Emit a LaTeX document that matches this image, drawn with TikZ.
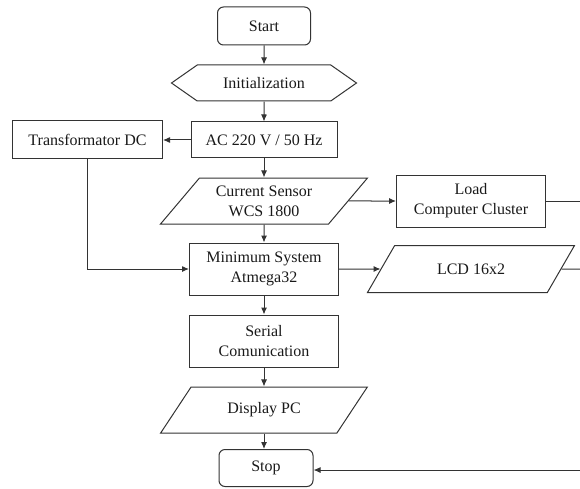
\documentclass[tikz,border=0pt]{standalone}
\usepackage{fontspec}
\setmainfont{Liberation Serif}
\usetikzlibrary{shapes.geometric,shapes.symbols,arrows.meta}

\tikzset{
  base/.style={draw=black!80, line width=1pt, align=center, inner sep=2pt,
    text=black!90, font=\fontsize{16}{20}\selectfont},
  term/.style={base, rectangle, rounded corners=6pt},
  prep/.style={base, signal, signal to=west and east, signal pointer angle=70},
  proc/.style={base, rectangle},
  io/.style={base, trapezium, trapezium left angle=49, trapezium right angle=131,
    trapezium stretches=true},
  arr/.style={draw=black!80, line width=1pt, -{Latex[length=7pt,width=6pt]}},
  ln/.style={draw=black!80, line width=1pt}
}

\begin{document}
\begin{tikzpicture}[x=1pt, y=-1pt]

\useasboundingbox (0,0) rectangle (580,489);

% Main column
\node[term, minimum width=93pt, minimum height=38pt] (start) at (264,26) {Start};
\node[prep, minimum width=185pt, minimum height=36pt] (init) at (264,83) {Initialization};
\node[proc, minimum width=146pt, minimum height=36pt] (ac) at (264,140) {AC 220 V / 50 Hz};
\node[io, minimum width=207pt, minimum height=46pt] (sensor) at (264,201) {Current Sensor\\WCS 1800};
\node[proc, minimum width=149pt, minimum height=52pt] (minsys) at (264,269) {Minimum System\\Atmega32};
\node[proc, minimum width=149pt, minimum height=52pt] (serial) at (264,341) {Serial\\Comunication};
\node[io, minimum width=207pt, minimum height=46pt] (display) at (264,410) {Display PC};
\node[term, minimum width=94pt, minimum height=37pt] (stop) at (266,468) {Stop};

% Side blocks
\node[proc, minimum width=150pt, minimum height=38pt] (trafo) at (87.5,140) {Transformator DC};
\node[proc, minimum width=149pt, minimum height=52pt] (load) at (471,201) {Load\\Computer Cluster};
\node[io, minimum width=208pt, minimum height=47pt] (lcd) at (471,269) {LCD 16x2};

% Off-picture ends
\coordinate (loadout) at (580,201);
\coordinate (lcdout) at (580,269);
\coordinate (stopin) at (580,470);

% Flow
\draw[arr] (start) -- (init);
\draw[arr] (init) -- (ac);
\draw[arr] (ac) -- (sensor);
\draw[arr] (sensor) -- (minsys);
\draw[arr] (minsys) -- (serial);
\draw[arr] (serial) -- (display);
\draw[arr] (display) -- (stop.north -| display);
\draw[arr] (ac.west) -- (trafo.east);
\draw[arr] (trafo.south) |- (minsys.west);
\draw[arr] (sensor.east) -- (load.west);
\draw[arr] (minsys.east) -- (lcd.west);
\draw[ln] (load.east) -- (loadout);
\draw[ln] (lcd.east) -- (lcdout);
\draw[arr] (stopin) -- (stop.east |- stopin);

\end{tikzpicture}
\end{document}
